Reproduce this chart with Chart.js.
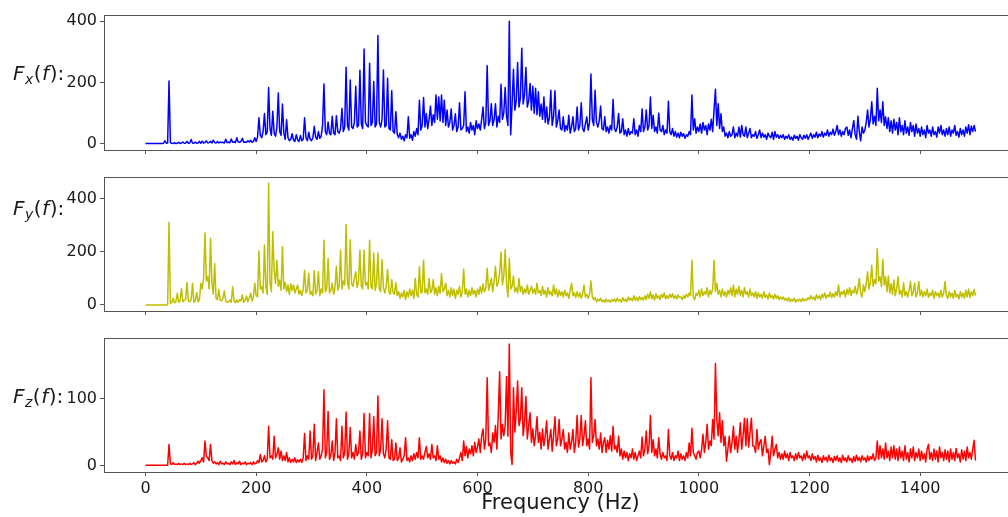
<!DOCTYPE html>
<html>
<head>
<meta charset="utf-8">
<title>Force spectra</title>
<script src="https://cdn.jsdelivr.net/npm/chart.js@4.4.1/dist/chart.umd.min.js"></script>
<style>
  html, body { margin: 0; padding: 0; background: #fff; overflow: hidden; }
  #wrap { position: relative; width: 1024px; height: 517px; }
  #wrap canvas { position: absolute; left: 0; top: 0; }
</style>
</head>
<body>
<div id="wrap">
  <canvas id="fx" width="1024" height="517"></canvas>
  <canvas id="fy" width="1024" height="517"></canvas>
  <canvas id="fz" width="1024" height="517"></canvas>
</div>
<script>
// spectra sampled every 2.5 Hz from 0 to 1500 Hz, one row = 50 Hz
const STEP_HZ = 2.5;

const freqTicks = [0, 200, 400, 600, 800, 1000, 1200, 1400];
const fxTicks = [0, 200, 400];
const fyTicks = [0, 200, 400];
const fzTicks = [0, 100];

const fxAmp = [
  1,1,1,1,1,1,1,1,1,1,1,1,1,2,10,2,3,205,4,2,
  1,4,1,2,5,1,3,6,2,3,8,2,3,14,3,2,6,2,3,8,
  2,9,3,4,10,3,4,8,3,12,4,3,8,3,6,4,5,3,15,4,
  5,4,16,5,7,4,20,6,5,8,18,5,6,5,10,6,12,5,8,20,
  8,22,85,28,20,40,99,30,38,184,50,28,106,35,25,55,166,40,28,130,
  35,15,79,20,10,15,33,12,8,30,12,8,27,10,15,85,20,10,38,15,
  10,20,57,22,15,40,18,25,60,195,40,30,71,35,30,90,35,30,92,40,
  35,50,115,40,55,250,60,45,208,55,50,70,188,55,60,240,65,50,309,70,
  60,55,263,60,70,203,55,65,353,70,55,80,241,55,60,214,50,45,173,40,
  35,105,30,20,35,15,25,10,30,20,88,18,30,12,40,25,50,30,142,45,
  60,151,55,99,50,80,123,60,95,70,159,80,153,75,159,70,142,60,110,55,
  70,114,45,60,98,40,55,134,45,50,60,170,40,55,35,70,45,60,30,75,
  50,65,45,80,120,50,70,255,60,75,131,60,80,131,55,90,70,194,80,100,
  184,90,60,400,30,130,243,110,140,265,120,150,312,130,160,249,120,140,197,110,
  188,100,181,95,170,90,130,80,153,70,120,65,85,175,60,90,173,55,75,110,
  50,45,88,40,60,45,93,35,55,88,40,50,120,45,60,134,50,40,65,88,
  45,70,228,80,60,175,70,55,75,123,50,45,88,40,55,35,60,45,145,50,
  40,55,99,35,40,82,30,45,25,50,30,40,35,82,30,45,25,60,40,114,
  40,55,110,45,60,153,50,93,40,55,35,100,45,40,60,30,45,35,139,40,
  30,50,25,40,22,35,20,38,25,33,18,30,25,40,30,159,45,82,35,55,
  40,65,35,70,45,60,30,65,45,80,40,110,178,60,131,50,98,40,55,25,
  35,20,40,25,30,55,20,35,25,55,22,60,30,25,55,20,35,50,20,30,
  25,40,18,30,45,20,35,22,30,15,35,25,20,38,15,40,22,30,18,28,
  20,30,15,25,18,30,15,22,12,28,18,25,12,30,20,15,28,18,30,15,
  25,35,18,30,22,38,20,32,25,40,22,35,28,45,25,38,30,48,28,40,
  60,30,45,25,40,30,50,55,28,45,20,50,76,30,15,90,40,10,55,35,
  45,70,110,55,80,137,65,90,60,181,75,110,70,137,60,88,50,85,40,75,
  35,80,45,70,30,85,40,60,30,75,35,55,28,70,40,60,25,65,35,50,
  25,55,30,45,20,60,35,45,25,55,30,40,22,55,35,60,30,45,25,50,
  30,55,25,45,35,60,28,40,22,50,30,45,25,55,35,62,30,58,40,60,
  40
];

const fyAmp = [
  0,0,0,0,0,0,0,0,0,0,0,0,0,0,0,0,0,312,5,10,
  25,8,12,44,10,15,62,12,18,20,85,15,12,20,82,10,15,47,12,20,
  82,60,100,272,90,107,60,252,82,40,156,25,20,58,18,15,25,53,15,10,
  12,18,10,69,15,8,19,10,20,15,38,10,18,34,12,25,44,15,30,82,
  35,31,204,60,69,45,226,69,40,459,82,50,276,131,80,169,70,94,55,220,
  60,85,50,75,40,80,55,75,45,60,75,40,55,35,60,131,45,55,119,40,
  50,35,129,40,55,125,35,60,45,244,50,60,175,45,55,82,40,65,146,55,
  70,206,60,90,75,304,85,60,246,80,70,100,125,65,90,206,70,60,206,75,
  85,60,244,70,60,196,55,80,196,60,50,171,65,45,70,134,50,40,96,45,
  40,84,35,50,25,45,30,55,20,50,30,60,35,55,25,100,40,30,144,45,
  50,169,45,60,40,100,45,55,96,40,65,35,70,45,119,50,60,82,35,55,
  30,65,35,60,25,55,40,70,30,50,135,40,60,30,55,35,65,40,55,30,
  60,40,70,45,80,50,65,138,55,75,100,50,90,146,70,85,120,200,75,110,
  209,80,30,175,60,70,109,50,65,45,100,50,70,40,60,45,75,40,55,70,
  45,60,40,82,45,55,35,70,40,55,30,65,40,50,35,75,40,60,30,55,
  35,50,30,55,35,45,25,55,82,35,45,28,50,30,45,25,40,75,30,40,
  25,40,90,30,20,28,12,22,15,25,12,18,10,22,12,18,10,20,14,22,
  12,25,15,20,10,28,15,22,12,30,18,25,15,35,18,28,15,32,20,28,
  18,35,20,40,25,50,22,38,18,42,25,35,20,40,28,45,22,35,25,40,
  28,42,25,35,22,38,28,30,20,35,25,40,30,45,35,169,30,20,44,35,
  55,30,60,35,50,40,65,30,55,40,60,169,50,82,40,55,30,60,35,50,
  30,55,40,65,35,75,30,60,40,70,35,55,30,65,40,50,30,60,35,45,
  30,50,25,45,30,40,25,50,28,38,22,45,28,35,22,40,25,35,20,30,
  22,30,18,25,15,28,12,22,15,25,10,20,15,22,12,25,15,22,18,28,
  20,35,22,30,18,38,25,35,20,40,28,45,25,38,30,48,28,42,30,50,
  35,75,30,50,40,55,30,60,40,65,35,55,45,70,40,60,100,45,30,75,
  50,80,125,60,85,150,70,95,80,213,90,106,70,171,75,106,50,109,45,80,
  40,94,35,60,106,40,55,30,84,35,50,30,55,88,35,50,82,30,45,88,
  35,55,30,50,35,60,28,45,35,55,25,50,35,45,28,55,30,45,88,35,
  25,50,30,45,25,55,30,40,22,50,30,45,25,55,30,60,28,50,35,58,
  35
];

const fzAmp = [
  1,1,1,1,1,1,1,1,1,1,1,1,1,1,1,1,1,32,3,2,
  5,2,3,2,4,2,3,2,4,2,3,2,4,2,3,5,2,4,7,4,
  8,12,6,37,14,12,8,32,8,4,6,3,5,2,7,3,4,2,6,3,
  4,2,6,3,8,2,5,3,7,2,4,3,6,2,4,3,5,2,6,3,
  4,8,5,17,6,8,15,6,10,59,12,15,10,44,12,17,27,10,22,8,
  15,8,20,6,12,5,10,6,12,5,9,6,10,5,12,48,8,15,10,52,
  10,15,62,8,20,34,10,15,25,113,12,20,81,10,15,37,8,20,70,12,
  15,8,59,12,20,80,10,18,57,12,20,10,32,15,20,52,10,18,78,12,
  20,15,78,12,25,73,15,20,104,15,25,70,18,12,25,67,12,10,39,8,
  10,34,8,12,27,6,10,15,42,8,12,6,15,8,18,10,20,12,42,10,
  15,10,20,29,12,18,10,32,12,15,8,30,10,15,6,12,5,10,4,8,
  3,8,4,6,3,10,5,12,20,8,37,15,29,12,25,18,30,15,35,20,
  28,40,20,45,55,25,40,131,30,34,20,49,35,60,25,75,140,40,62,45,
  60,133,44,181,20,2,116,50,80,126,60,70,116,45,65,103,40,60,79,35,
  55,30,45,73,35,50,25,55,30,45,67,25,40,54,22,45,73,30,40,69,
  30,40,54,25,35,20,49,25,35,54,20,35,75,28,40,75,30,45,67,30,
  40,25,131,35,45,69,30,40,25,49,20,35,42,20,38,25,45,22,59,25,
  30,20,44,15,25,10,22,12,20,8,18,12,25,10,20,8,15,22,12,43,
  15,25,52,18,30,75,20,39,15,25,12,42,18,10,20,12,15,8,54,15,
  10,20,8,15,12,22,8,18,10,15,8,20,12,34,15,56,20,15,10,20,
  22,12,25,47,20,35,62,25,37,30,69,40,152,69,45,79,35,67,30,44,
  7,25,44,20,35,59,25,44,20,40,64,25,45,71,30,70,28,50,71,30,
  29,20,54,25,35,39,15,30,44,20,25,2,20,44,15,25,32,12,20,10,
  18,10,22,12,18,8,20,12,15,8,18,10,20,12,15,8,18,10,22,12,
  15,8,18,10,14,6,16,8,12,5,15,9,13,6,16,8,12,5,14,8,
  15,7,12,5,16,8,12,6,15,8,11,5,14,7,16,8,13,6,15,9,
  12,6,15,8,14,10,18,8,12,37,10,30,12,25,10,34,12,22,8,28,
  12,30,10,25,8,28,12,22,8,30,10,20,6,25,12,28,8,20,12,25,
  8,22,10,18,6,25,32,10,20,8,25,10,22,6,28,12,20,8,24,10,
  22,6,25,10,20,8,26,12,18,6,24,10,22,8,28,12,20,10,25,38,
  8
];

const FONT = "'DejaVu Sans', sans-serif";
const TEXT = '#1a1a1a';
const SPINE = '#555';
const CANVAS_H = 517;
const AXIS_LEFT = 104;
const AXIS_RIGHT = 1017;

// F_?(f): written out as mathtext would: italic F and f, small italic subscript
function drawForceLabel(ctx, x, y, sub) {
  const parts = [
    { t: 'F', font: `italic 20px ${FONT}`, dy: 0 },
    { t: sub, font: `italic 14px ${FONT}`, dy: 4 },
    { t: '(', font: `20px ${FONT}`, dy: 0 },
    { t: 'f', font: `italic 20px ${FONT}`, dy: 0 },
    { t: '):', font: `20px ${FONT}`, dy: 0 }
  ];
  ctx.fillStyle = TEXT;
  ctx.textAlign = 'left';
  ctx.textBaseline = 'alphabetic';
  for (const p of parts) {
    ctx.font = p.font;
    ctx.fillText(p.t, x, y + p.dy);
    x += ctx.measureText(p.t).width + 0.5;
  }
}

const panelDecor = {
  id: 'panelDecor',
  afterDraw(chart, args, opts) {
    const { ctx, chartArea: a } = chart;
    ctx.save();
    ctx.strokeStyle = SPINE;
    ctx.lineWidth = 1;
    ctx.strokeRect(Math.round(a.left) + 0.5, Math.round(a.top) + 0.5,
      Math.round(a.right - a.left), Math.round(a.bottom - a.top));
    drawForceLabel(ctx, 13, opts.labelY, opts.sub);
    if (opts.xTitle) {
      ctx.font = `21px ${FONT}`;
      ctx.fillStyle = TEXT;
      ctx.textAlign = 'center';
      ctx.textBaseline = 'alphabetic';
      ctx.fillText(opts.xTitle, (a.left + a.right) / 2, 509);
    }
    ctx.restore();
  }
};

function makePanel(id, amps, color, yTicks, yMin, yMax, top, bottom, sub, labelY, showFreq) {
  const points = amps.map((v, i) => ({ x: i * STEP_HZ, y: v }));
  return new Chart(document.getElementById(id), {
    type: 'line',
    data: {
      datasets: [{
        data: points,
        borderColor: color,
        borderWidth: 1.5,
        borderJoinStyle: 'round',
        pointRadius: 0,
        tension: 0,
        fill: false
      }]
    },
    options: {
      responsive: false,
      animation: false,
      layout: { padding: { left: 0, right: 1024 - AXIS_RIGHT, top: top, bottom: 0 } },
      plugins: {
        legend: { display: false },
        tooltip: { enabled: false },
        panelDecor: { sub: sub, labelY: labelY, xTitle: showFreq ? 'Frequency (Hz)' : null }
      },
      scales: {
        x: {
          type: 'linear',
          min: -75,
          max: 1575,
          afterBuildTicks: s => { s.ticks = freqTicks.map(v => ({ value: v })); },
          afterFit: s => { s.height = CANVAS_H - bottom; },
          border: { display: false },
          grid: { drawOnChartArea: false, drawTicks: true, tickLength: 4, color: SPINE },
          ticks: {
            display: showFreq,
            autoSkip: false,
            maxRotation: 0,
            padding: 3,
            color: TEXT,
            font: { family: FONT, size: 16 },
            callback: v => String(v)
          }
        },
        y: {
          type: 'linear',
          min: yMin,
          max: yMax,
          afterBuildTicks: s => { s.ticks = yTicks.map(v => ({ value: v })); },
          afterFit: s => { s.width = AXIS_LEFT; },
          border: { display: false },
          grid: { drawOnChartArea: false, drawTicks: true, tickLength: 4, color: SPINE },
          ticks: {
            padding: 3,
            color: TEXT,
            font: { family: FONT, size: 16 },
            callback: v => String(v)
          }
        }
      }
    },
    plugins: [panelDecor]
  });
}

makePanel('fx', fxAmp, '#0000ff', fxTicks, -20, 420, 15, 150, 'x', 80, false);
makePanel('fy', fyAmp, '#bfbf00', fyTicks, -23, 483, 177, 311, 'y', 215, false);
makePanel('fz', fzAmp, '#ff0000', fzTicks, -9, 190, 338, 472, 'z', 403, true);
</script>
</body>
</html>
